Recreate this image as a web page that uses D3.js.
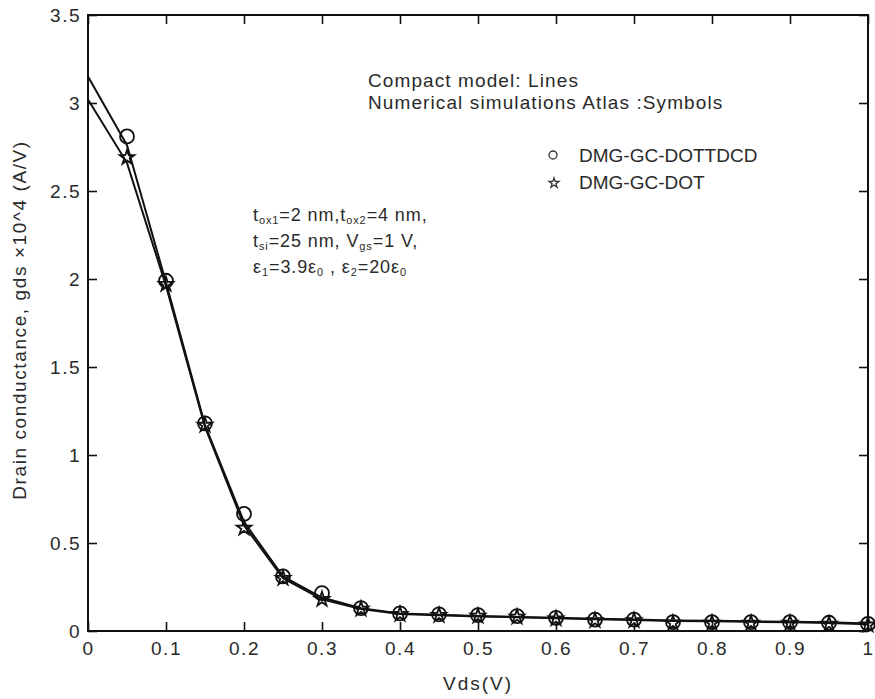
<!DOCTYPE html>
<html>
<head>
<meta charset="utf-8">
<script src="https://cdn.jsdelivr.net/npm/d3@7"></script>
<style>
  body { margin: 0; background: #fff; }
  text { font-family: Arial, "Liberation Sans", sans-serif; }
</style>
</head>
<body>
<script>
// Vds values where Atlas simulations were sampled
const vdsSim = [0.05, 0.1, 0.15, 0.2, 0.25, 0.3, 0.35, 0.4, 0.45, 0.5, 0.55, 0.6, 0.65, 0.7, 0.75, 0.8, 0.85, 0.9, 0.95, 1.0];
const simDottdcd = [2.81, 1.99, 1.18, 0.665, 0.31, 0.215, 0.13, 0.10, 0.095, 0.09, 0.085, 0.075, 0.065, 0.065, 0.05, 0.05, 0.05, 0.05, 0.047, 0.04];
const simDot     = [2.69, 1.97, 1.17, 0.585, 0.30, 0.18, 0.125, 0.095, 0.09, 0.085, 0.08, 0.07, 0.06, 0.06, 0.045, 0.045, 0.045, 0.045, 0.04, 0.035];

// compact model curves
const vdsModel = [0, 0.05, 0.1, 0.15, 0.2, 0.25, 0.3, 0.35, 0.4, 0.45, 0.5, 0.55, 0.6, 0.65, 0.7, 0.75, 0.8, 0.85, 0.9, 0.95, 1.0];
const modelDottdcd = [3.15, 2.76, 1.98, 1.17, 0.62, 0.31, 0.19, 0.13, 0.10, 0.093, 0.085, 0.08, 0.075, 0.07, 0.065, 0.06, 0.058, 0.055, 0.053, 0.05, 0.042];
const modelDot     = [3.02, 2.66, 1.96, 1.16, 0.60, 0.30, 0.18, 0.125, 0.097, 0.09, 0.083, 0.078, 0.072, 0.067, 0.062, 0.057, 0.055, 0.052, 0.05, 0.045, 0.038];

const xTicks = [0, 0.1, 0.2, 0.3, 0.4, 0.5, 0.6, 0.7, 0.8, 0.9, 1];
const yTicks = [0, 0.5, 1, 1.5, 2, 2.5, 3, 3.5];

const W = 875, H = 699;
const mLeft = 88, mRight = 868, mTop = 15, mBottom = 631;

const svg = d3.select("body").append("svg")
  .attr("width", W)
  .attr("height", H);

const x = d3.scaleLinear().domain([0, 1]).range([mLeft, mRight]);
const y = d3.scaleLinear().domain([0, 3.5]).range([mBottom, mTop]);

const txtColor = "#2a2a2a";

// axes - ticks point inward, box on all sides
const tickLen = 9;
svg.append("g").attr("class", "xax").attr("transform", `translate(0,${mBottom})`)
  .call(d3.axisBottom(x).tickValues(xTicks).tickSize(-tickLen).tickPadding(11).tickFormat(d3.format("")))
  .call(g => g.select(".domain").remove());
svg.append("g").attr("transform", `translate(0,${mTop})`)
  .call(d3.axisTop(x).tickValues(xTicks).tickSize(-tickLen).tickFormat(""))
  .call(g => g.select(".domain").remove());
svg.append("g").attr("class", "yax").attr("transform", `translate(${mLeft},0)`)
  .call(d3.axisLeft(y).tickValues(yTicks).tickSize(-tickLen).tickPadding(7).tickFormat(d3.format("")))
  .call(g => g.select(".domain").remove());
svg.append("g").attr("transform", `translate(${mRight},0)`)
  .call(d3.axisRight(y).tickValues(yTicks).tickSize(-tickLen).tickFormat(""))
  .call(g => g.select(".domain").remove());

svg.selectAll(".tick line").attr("stroke", "#111").attr("stroke-width", 1.6);
svg.selectAll(".tick text")
  .attr("font-size", 19)
  .attr("letter-spacing", 1.5)
  .attr("fill", txtColor);

svg.append("rect")
  .attr("x", mLeft).attr("y", mTop)
  .attr("width", mRight - mLeft).attr("height", mBottom - mTop)
  .attr("fill", "none").attr("stroke", "#111").attr("stroke-width", 2);

// axis titles
svg.append("text")
  .attr("x", 478).attr("y", 690)
  .attr("text-anchor", "middle")
  .attr("font-size", 19).attr("letter-spacing", 2).attr("fill", txtColor)
  .text("Vds(V)");

svg.append("text")
  .attr("transform", "translate(26,320) rotate(-90)")
  .attr("text-anchor", "middle")
  .attr("font-size", 19).attr("letter-spacing", 1.6).attr("fill", txtColor)
  .text("Drain conductance, gds \u00d710^4 (A/V)");

// model lines
const line = d3.line().x(d => x(d[0])).y(d => y(d[1]));
[modelDottdcd, modelDot].forEach(vals => {
  svg.append("path")
    .datum(vdsModel.map((v, i) => [v, vals[i]]))
    .attr("fill", "none")
    .attr("stroke", "#111")
    .attr("stroke-width", 2)
    .attr("d", line);
});

// simulation symbols
svg.append("g").selectAll("circle")
  .data(vdsSim.map((v, i) => [v, simDottdcd[i]]))
  .join("circle")
  .attr("cx", d => x(d[0])).attr("cy", d => y(d[1]))
  .attr("r", 7)
  .attr("fill", "none").attr("stroke", "#111").attr("stroke-width", 1.8);

const star = d3.symbol().type(d3.symbolStar).size(65);
svg.append("g").selectAll("path")
  .data(vdsSim.map((v, i) => [v, simDot[i]]))
  .join("path")
  .attr("transform", d => `translate(${x(d[0])},${y(d[1])})`)
  .attr("d", star)
  .attr("fill", "none").attr("stroke", "#111").attr("stroke-width", 1.8);

// annotation
svg.append("text").attr("x", 368).attr("y", 87)
  .attr("font-size", 19).attr("letter-spacing", 1.1).attr("fill", txtColor)
  .text("Compact model: Lines");
svg.append("text").attr("x", 368).attr("y", 109)
  .attr("font-size", 19).attr("letter-spacing", 1.1).attr("fill", txtColor)
  .text("Numerical simulations Atlas :Symbols");

// legend
svg.append("circle").attr("cx", 553).attr("cy", 155).attr("r", 4)
  .attr("fill", "none").attr("stroke", "#333").attr("stroke-width", 1.3);
svg.append("path").attr("transform", "translate(554,183)")
  .attr("d", d3.symbol().type(d3.symbolStar).size(30))
  .attr("fill", "none").attr("stroke", "#333").attr("stroke-width", 1.3);
svg.append("text").attr("x", 579).attr("y", 162)
  .attr("font-size", 19).attr("fill", txtColor).text("DMG-GC-DOTTDCD");
svg.append("text").attr("x", 579).attr("y", 189)
  .attr("font-size", 19).attr("fill", txtColor).text("DMG-GC-DOT");

// device parameters, with subscripts
const paramLines = [
  [["t", ""], ["ox1", "sub"], ["=2 nm,t", ""], ["ox2", "sub"], ["=4 nm,", ""]],
  [["t", ""], ["si", "sub"], ["=25 nm, V", ""], ["gs", "sub"], ["=1 V,", ""]],
  [["\u03b5", ""], ["1", "sub"], ["=3.9\u03b5", ""], ["0", "sub"], [" , \u03b5", ""], ["2", "sub"], ["=20\u03b5", ""], ["0", "sub"]]
];
paramLines.forEach((parts, li) => {
  const t = svg.append("text")
    .attr("x", 253).attr("y", 221 + li * 26)
    .attr("font-size", 18).attr("letter-spacing", 0.9).attr("fill", txtColor);
  parts.forEach(([s, kind]) => {
    t.append("tspan")
      .attr("font-size", kind === "sub" ? 11 : 18)
      .attr("baseline-shift", kind === "sub" ? "-3" : null)
      .text(s);
  });
});
</script>
</body>
</html>
